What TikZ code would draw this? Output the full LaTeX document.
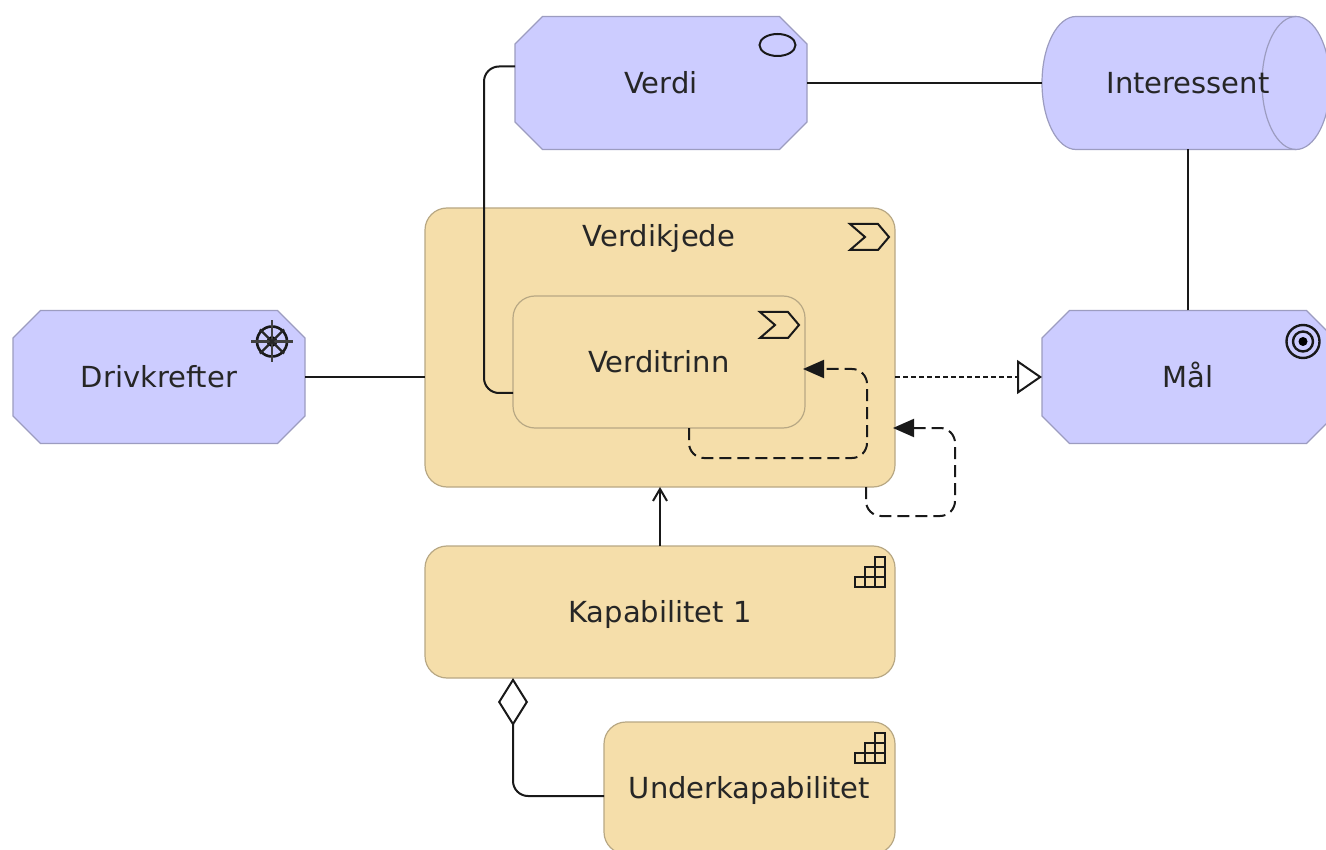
\documentclass[tikz,border=0pt]{standalone}
\usepackage{fontspec}
\setmainfont{DejaVu Sans}
\usetikzlibrary{shapes.misc,arrows.meta}
\definecolor{motivfill}{HTML}{CCCCFF}
\definecolor{motivline}{HTML}{9C9CC0}
\definecolor{stratfill}{HTML}{F5DEAA}
\definecolor{stratline}{HTML}{B8A884}
\tikzset{
  boxtext/.style={font=\fontsize{29}{34}\selectfont,text=black!85,text height=23pt,text depth=2pt},
  motivbox/.style={boxtext,chamfered rectangle,chamfered rectangle xsep=15pt,chamfered rectangle ysep=15pt,
    draw=motivline,fill=motivfill,line width=1.2pt,minimum width=292pt,minimum height=133pt,inner sep=0pt,outer sep=0pt},
  stratbox/.style={boxtext,rectangle,rounded corners=22pt,draw=stratline,fill=stratfill,line width=1.2pt,
    inner sep=0pt,outer sep=0pt},
  rel/.style={line width=2pt,black!90,rounded corners=15pt},
  trigger/.style={rel,dash pattern=on 12pt off 6pt,-{Triangle[length=21pt,width=18pt]}},
  icon/.style={line width=2pt,black!90},
  chevronicon/.pic={\draw[icon] (-45,16) -- (-17,16) -- (-6,29) -- (-17,42) -- (-45,42) -- (-30,29) -- cycle;},
  stepicon/.pic={\draw[icon] (-40,41) rectangle (-30,31) (-30,41) rectangle (-20,31) (-20,41) rectangle (-10,31)
    (-30,31) rectangle (-20,21) (-20,31) rectangle (-10,21) (-20,21) rectangle (-10,11);},
  ovalicon/.pic={\draw[icon] (-29.5,28.5) ellipse (18 and 11);},
  wheelicon/.pic={
    \draw[line width=2.6pt,black!90] (-33,31) circle (15);
    \fill[black] (-33,31) circle (5.5);
    \foreach \a in {0,90,180,270} \draw[line width=2.4pt,black!75] (-33,31) -- ++(\a:21);
    \foreach \a in {45,135,225,315} \draw[line width=2.4pt,black!85] (-33,31) -- ++(\a:17);
  },
  goalicon/.pic={
    \draw[line width=2.4pt,black!90] (-31,31) circle (16.5);
    \draw[line width=2.4pt,black!90] (-31,31) circle (10);
    \fill[black] (-31,31) circle (4.5);
  },
  actorbody/.pic={
    \draw[draw=motivline,fill=motivfill,line width=1.2pt] (-112,-66.5) -- (108,-66.5) arc (-90:90:34 and 66.5)
      -- (-112,66.5) arc (90:270:34 and 66.5) -- cycle;
    \draw[draw=motivline,line width=1.2pt] (108,-66.5) arc (-90:-270:34 and 66.5);
  },
}
\begin{document}
\begin{tikzpicture}[x=1pt,y=-1pt]
\path[use as bounding box,clip] (0,0) rectangle (1326,850);
\fill[white] (0,0) rectangle (1326,850);
% motivation
\node[motivbox] (verdi) at (661,83) {Verdi};
\node[motivbox] (drivkrefter) at (159,377) {Drivkrefter};
\node[motivbox] (maal) at (1188,377) {Mål};
\pic at (1188,83) {actorbody};
\node[boxtext,minimum width=292pt,minimum height=133pt,inner sep=0pt,outer sep=0pt] (interessent) at (1188,83) {Interessent};
% strategy
\node[stratbox,minimum width=470pt,minimum height=279pt] (verdikjede) at (660,347.5) {};
\node[boxtext] (verdikjedetext) at (659,236) {Verdikjede};
\node[stratbox,minimum width=292pt,minimum height=132pt] (verditrinn) at (659,362) {Verditrinn};
\node[stratbox,minimum width=470pt,minimum height=132pt] (kapabilitet) at (660,612) {Kapabilitet 1};
\node[stratbox,minimum width=291pt,minimum height=132pt] (underkapabilitet) at (749.5,788) {Underkapabilitet};
% icons
\pic at (verdi.north -| verdi.east) {ovalicon};
\pic at (drivkrefter.north -| drivkrefter.east) {wheelicon};
\pic at (maal.north -| maal.east) {goalicon};
\pic at (verdikjede.north east) {chevronicon};
\pic at (verditrinn.north east) {chevronicon};
\pic at (kapabilitet.north east) {stepicon};
\pic at (underkapabilitet.north east) {stepicon};
% relations
\draw[rel] (drivkrefter.east) -- (drivkrefter.east -| verdikjede.west);
\draw[rel] (verdi.east) -- (interessent.west);
\draw[rel] (maal.north) -- (interessent.south);
\coordinate (bendverdi) at (484,230);
\draw[rel] ([yshift=16.5pt]verdi.west) -| (bendverdi) |- ([yshift=-31pt]verditrinn.west);
\draw[rel,-{Straight Barb[length=12pt,width=14pt]}] (kapabilitet.north) -- (verdikjede.south);
\draw[rel,dash pattern=on 5pt off 3pt,-{Triangle[open,fill=white,length=25pt,width=34pt]}]
  (maal.west -| verdikjede.east) -- (maal.west);
\coordinate (looptrinn) at (867,458);
\draw[trigger] ([xshift=30pt]verditrinn.south) |- (looptrinn) |- ([xshift=-2pt,yshift=-7pt]verditrinn.east);
\coordinate (loopkjede) at (955,516);
\draw[trigger] ([xshift=206pt]verdikjede.south) |- (loopkjede) |- ([xshift=-2pt,yshift=-80.5pt]verdikjede.east);
\draw[rel,-{Diamond[open,fill=white,length=48pt,width=30pt]}]
  ([yshift=-8pt]underkapabilitet.west) -| ([xshift=-147pt]kapabilitet.south);
\end{tikzpicture}
\end{document}
